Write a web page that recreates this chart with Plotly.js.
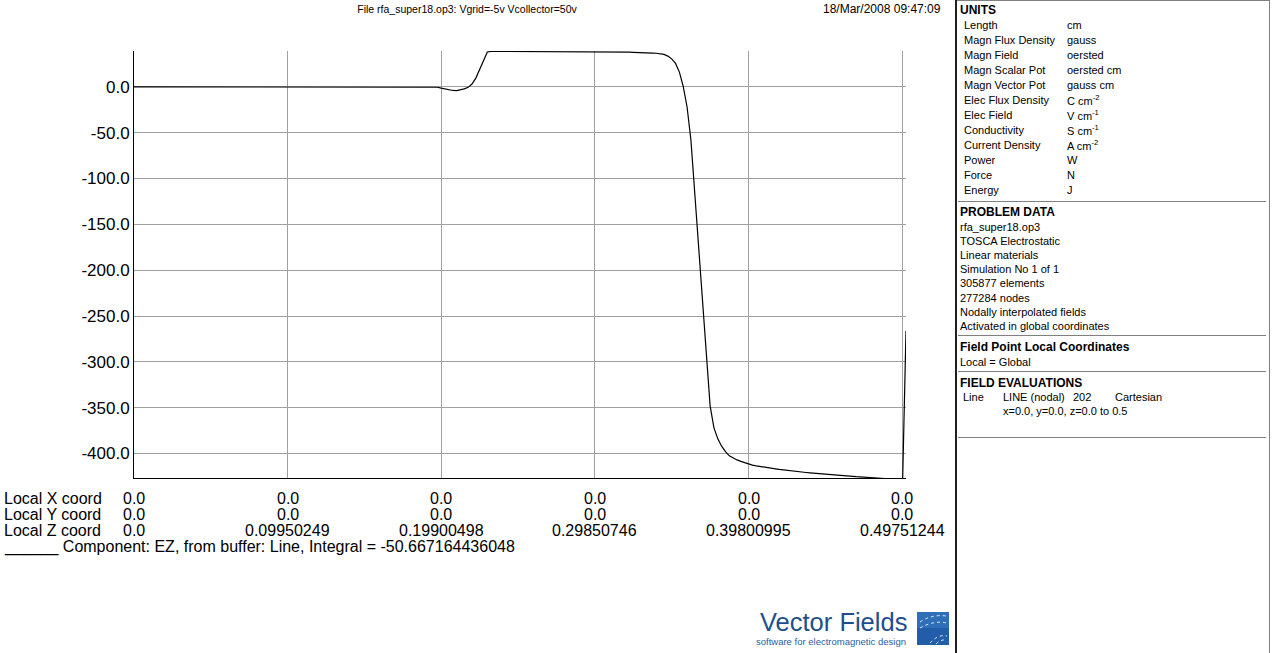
<!DOCTYPE html>
<html>
<head>
<meta charset="utf-8">
<script src="https://cdn.plot.ly/plotly-3.0.1.min.js"></script>
<style>html,body{margin:0;padding:0;background:#fff;}#chart{width:1272px;height:653px;}</style>
</head>
<body>
<div id="chart"></div>
<script>
// ---- Data (evaluation line: LINE (nodal), 202 points, z = 0.0 to 0.5) ----
const nPoints = 202;
const zStart = 0.0;
const zEnd = 0.5;

// EZ component values (V/cm)
const ezValues = [
  0,0,0,0,0,0,0,0,0,0, 0,0,0,0,0,0,0,0,0,0,
  0,0,0,0,0,0,0,0,0,0, 0,0,0,0,0,0,0,0,0,0,
  0,0,0,0,0,0,0,0,0,0, 0,0,0,0,0,0,0,0,0,0,
  0,0,0,0,0,0,0,0,0,0, 0,0,0,0,0,0,0,0,0,
  -0.5,-1.5,-2.5,-3.3,-4.0,-4.2,-3.6,-2.3,-0.6,3.0,9.5,18.5,28.5,38.0,
  38.6,38.6,38.6,38.6,38.6,38.5,38.5,38.5,38.5,38.5,38.5,
  38.4,38.4,38.4,38.4,38.4,38.4,38.3,38.3,38.3,38.3,38.3,38.3,
  38.2,38.2,38.2,38.2,38.2,38.0,38.0,38.0,38.0,37.9,37.9,37.9,
  37.8,37.8,37.6,37.6,37.4,37.2,37.0,36.8,36.6,
  36.3,35.3,33.5,30.5,25.5,16.0,0.5,-22,-58,-118,
  -176,-234,-292,-348,-372,-384,-392,-398,-402.5,-405,
  -407,-408.5,-410,-411.8,-412.6,-413.4,-414.2,-414.9,-415.5,-416.1,
  -416.7,-417.3,-417.9,-418.4,-418.9,-419.4,-419.8,-420.2,-420.7,-421.1,
  -421.5,-421.9,-422.3,-422.7,-423.1,-423.4,-423.7,-424.0,-424.3,-424.6,
  -424.9,-425.2,-425.4,-425.6,-425.8,-426.0,-426.3,-426.6,-427.0,-427.5,
  -428.2,-429.5,-432,-452,-266
];

const xTickVals   = [0.0, 0.09950249, 0.19900498, 0.29850746, 0.39800995, 0.49751244];
const xCoordRow   = ["0.0","0.0","0.0","0.0","0.0","0.0"];
const yCoordRow   = ["0.0","0.0","0.0","0.0","0.0","0.0"];
const zCoordRow   = ["0.0","0.09950249","0.19900498","0.29850746","0.39800995","0.49751244"];
const rowLabels   = ["Local X coord","Local Y coord","Local Z coord"];

const yTickVals = [0,-50,-100,-150,-200,-250,-300,-350,-400];
const yTickText = ["0.0","-50.0","-100.0","-150.0","-200.0","-250.0","-300.0","-350.0","-400.0"];

const unitNames  = ["Length","Magn Flux Density","Magn Field","Magn Scalar Pot","Magn Vector Pot","Elec Flux Density","Elec Field","Conductivity","Current Density","Power","Force","Energy"];
const unitValues = ["cm","gauss","oersted","oersted cm","gauss cm","C cm<sup>-2</sup>","V cm<sup>-1</sup>","S cm<sup>-1</sup>","A cm<sup>-2</sup>","W","N","J"];
const problemData = ["rfa_super18.op3","TOSCA Electrostatic","Linear materials","Simulation No 1 of 1","305877 elements","277284 nodes","Nodally interpolated fields","Activated in global coordinates"];

const titleText = "File rfa_super18.op3: Vgrid=-5v Vcollector=50v";
const dateText = "18/Mar/2008 09:47:09";
const legendText = "______ Component: EZ, from buffer: Line, Integral = -50.667164436048";

// z positions of the evaluation line
const zValues = [];
for (let i = 0; i < nPoints; i++) zValues.push(zStart + i * (zEnd - zStart) / (nPoints - 1));

// ---- Layout helpers (pixel -> paper) ----
const L = 134, R = 906, T = 51, B = 478;
const px = x => (x - L) / (R - L);
const py = y => (B - y) / (B - T);
const FONT = "Liberation Sans, Arial, sans-serif";

const annotations = [];
function ann(text, x, y, o) {
  o = o || {};
  annotations.push(Object.assign({
    text: text, xref: 'paper', yref: 'paper', x: px(x), y: py(y),
    xanchor: 'left', yanchor: 'middle', showarrow: false, borderpad: 0,
    font: {family: FONT, size: 11, color: '#000'}
  }, o));
}

// date
ann(dateText, 942, 9, {xanchor: 'right', font: {family: FONT, size: 12, color: '#000'}});

// bottom rows
const BIG = {family: FONT, size: 16, color: '#000'};
const rowY = [498.5, 514.5, 530.5];
const rows = [xCoordRow, yCoordRow, zCoordRow];
rowLabels.forEach((lab, r) => {
  ann(lab, 3, rowY[r], {font: BIG});
  rows[r].forEach((t, c) => {
    annotations.push({
      text: t, xref: 'x', yref: 'paper', x: xTickVals[c], y: py(rowY[r]),
      xanchor: 'center', yanchor: 'middle', showarrow: false, borderpad: 0,
      font: BIG
    });
  });
});
ann(legendText, 3, 547, {font: BIG});

// right panel text
const HEAD = {family: FONT, size: 12, color: '#000'};
ann("<b>UNITS</b>", 959, 10, {font: HEAD});
unitNames.forEach((n, i) => {
  ann(n, 963, 25 + 15 * i);
  ann(unitValues[i], 1066, 25 + 15 * i);
});
ann("<b>PROBLEM DATA</b>", 959, 212, {font: HEAD});
problemData.forEach((t, i) => ann(t, 959, 226.5 + 14.2 * i));
ann("<b>Field Point Local Coordinates</b>", 959, 346.5, {font: HEAD});
ann("Local = Global", 959, 361.5);
ann("<b>FIELD EVALUATIONS</b>", 959, 382.5, {font: HEAD});
ann("Line", 962, 396.5);
ann("LINE (nodal)", 1002, 396.5);
ann("202", 1072, 396.5);
ann("Cartesian", 1114, 396.5);
ann("x=0.0, y=0.0, z=0.0 to 0.5", 1002, 410.5);

// logo text
ann("Vector Fields", 908, 622, {xanchor: 'right', font: {family: FONT, size: 25.5, color: '#1d4f8e'}});
ann("software for electromagnetic design", 907, 641, {xanchor: 'right', font: {family: FONT, size: 9.5, color: '#2a5d9f'}});

// shapes
const shapes = [];
function line(x0, y0, x1, y1, color, w) {
  shapes.push({type: 'line', xref: 'paper', yref: 'paper', x0: px(x0), y0: py(y0), x1: px(x1), y1: py(y1),
    line: {color: color, width: w || 1}});
}
line(955, 0.5, 1270, 0.5, '#808080', 1);
line(956, 0, 956, 653, '#202020', 2);
line(1269.5, 0, 1269.5, 653, '#808080', 1);
[201.5, 335.5, 371.5, 437.5].forEach(y => line(958, y, 1266, y, '#808080', 1));

// logo square
shapes.push({type: 'rect', xref: 'paper', yref: 'paper', x0: px(917), x1: px(949), y0: py(645), y1: py(612),
  fillcolor: '#2f6fb8', line: {width: 0}});
shapes.push({type: 'rect', xref: 'paper', yref: 'paper', x0: px(917), x1: px(949), y0: py(645), y1: py(628),
  fillcolor: 'rgba(20,70,150,0.45)', line: {width: 0}});
function pth(d) { shapes.push({type: 'path', xref: 'paper', yref: 'paper', path: d, line: {color: 'rgba(255,255,255,0.85)', width: 1, dash: 'dot'}}); }
function P(x, y) { return px(x) + ',' + py(y); }
pth('M' + P(920, 622) + ' Q' + P(932, 614) + ' ' + P(946, 616));
pth('M' + P(920, 628) + ' Q' + P(934, 620) + ' ' + P(947, 623));
pth('M' + P(930, 643) + ' Q' + P(938, 634) + ' ' + P(947, 636));
pth('M' + P(936, 644) + ' Q' + P(941, 639) + ' ' + P(947, 640));

const trace = {
  x: zValues, y: ezValues, type: 'scatter', mode: 'lines',
  line: {color: '#000', width: 1.2}, hoverinfo: 'skip'
};

const layout = {
  width: 1272, height: 653,
  margin: {l: L, r: 1272 - R, t: T, b: 653 - B, pad: 0},
  paper_bgcolor: '#fff', plot_bgcolor: '#fff',
  showlegend: false,
  title: {text: titleText, font: {family: FONT, size: 10.5, color: '#000'},
          xref: 'paper', x: px(467), xanchor: 'center', yref: 'container', y: 1 - 9 / 653, yanchor: 'middle'},
  xaxis: {range: [zStart, zEnd], tickvals: xTickVals, showticklabels: false, ticks: '',
          showgrid: true, gridcolor: '#a0a0a0', gridwidth: 1, zeroline: false,
          showline: true, linecolor: '#000', linewidth: 1, fixedrange: true},
  yaxis: {range: [-426.7, 39.05], tickvals: yTickVals, ticktext: yTickText, ticks: '',
          tickfont: {family: FONT, size: 17, color: '#000'},
          showgrid: true, gridcolor: '#a0a0a0', gridwidth: 1, zeroline: false,
          showline: true, linecolor: '#000', linewidth: 1, fixedrange: true},
  annotations: annotations,
  shapes: shapes,
  hovermode: false
};

Plotly.newPlot('chart', [trace], layout, {displayModeBar: false, staticPlot: true});
</script>
</body>
</html>
